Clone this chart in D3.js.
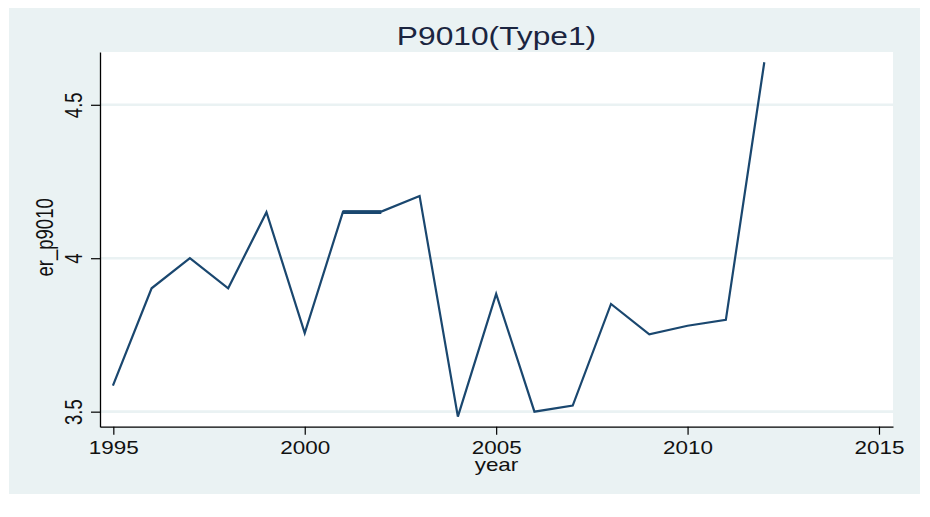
<!DOCTYPE html>
<html>
<head>
<meta charset="utf-8">
<script src="https://cdn.jsdelivr.net/npm/d3@7"></script>
<style>
  html, body { margin: 0; padding: 0; background: #ffffff; }
  svg { display: block; }
  text { font-family: "Liberation Sans", Arial, sans-serif; }
</style>
</head>
<body>
<svg id="chart" width="930" height="517"></svg>
<script>
// ---- data ----
const years = [1995, 1996, 1997, 1998, 1999, 2000, 2001, 2002, 2003, 2004, 2005, 2006, 2007, 2008, 2009, 2010, 2011, 2012];
const values = [3.588, 3.902, 4.000, 3.902, 4.150, 3.756, 4.152, 4.152, 4.203, 3.484, 3.884, 3.500, 3.520, 3.851, 3.752, 3.780, 3.799, 4.635];
// years with duplicated observations (drawn as overlapping, thicker segment)
const dupYears = [2001, 2002];
const xTicks = [1995, 2000, 2005, 2010, 2015];
const yTicks = [3.5, 4, 4.5];
const titleText = "P9010(Type1)";
const xTitle = "year";
const yTitle = "er_p9010";

// ---- layout ----
const W = 930, H = 517;
const plot = { left: 100, right: 893, top: 52, bottom: 426.7 };
const SX = 1.27; // horizontal text stretch seen in the reference
const lineColor = "#1a476f";
const bgColor = "#eaf2f3";
const textColor = "#111111";

const svg = d3.select("#chart");

// outer background
svg.append("rect").attr("x", 9).attr("y", 8).attr("width", 911).attr("height", 486).attr("fill", bgColor);
// plot region
svg.append("rect").attr("x", plot.left).attr("y", plot.top)
  .attr("width", plot.right - plot.left).attr("height", plot.bottom - plot.top).attr("fill", "#ffffff");

const x = d3.scaleLinear().domain([1994.652, 2015.366]).range([plot.left, plot.right]);
const y = d3.scaleLinear().domain([3.451, 4.672]).range([plot.bottom, plot.top]);

// gridlines
svg.append("g").selectAll("line").data(yTicks).join("line")
  .attr("x1", plot.left).attr("x2", plot.right)
  .attr("y1", d => y(d)).attr("y2", d => y(d))
  .attr("stroke", bgColor).attr("stroke-width", 2.6);

// data line
const line = d3.line().x(d => x(d[0])).y(d => y(d[1]));
const pts = years.map((yr, i) => [yr, values[i]]);
svg.append("path").datum(pts).attr("d", line)
  .attr("fill", "none").attr("stroke", lineColor).attr("stroke-width", 2.2)
  .attr("stroke-linejoin", "miter").attr("stroke-linecap", "square");
// overlapping duplicate observations -> thicker segment
svg.append("path").datum(pts.filter(p => dupYears.includes(p[0]))).attr("d", line)
  .attr("fill", "none").attr("stroke", lineColor).attr("stroke-width", 3.6)
  .attr("transform", "translate(0,0.5)");

// x axis
const xAxis = svg.append("g").attr("transform", `translate(0,${plot.bottom})`)
  .call(d3.axisBottom(x).tickValues(xTicks).tickFormat(d3.format("d")).tickSize(8).tickSizeOuter(0));
xAxis.select(".domain").attr("stroke", "#000").attr("stroke-width", 1.3);
xAxis.selectAll(".tick line").attr("stroke", "#000").attr("stroke-width", 1.2);
xAxis.selectAll(".tick text")
  .attr("y", null).attr("dy", null)
  .attr("transform", `translate(0,26.8) scale(${SX},1)`)
  .attr("fill", textColor).attr("font-size", 17.7)
  .attr("font-family", "Liberation Sans, Arial, sans-serif");

// y axis
const yAxis = svg.append("g").attr("transform", `translate(${plot.left},0)`)
  .call(d3.axisLeft(y).tickValues(yTicks).tickFormat(d => d3.format("")(d)).tickSize(9).tickSizeOuter(0));
yAxis.select(".domain").attr("stroke", "#000").attr("stroke-width", 1.3);
yAxis.selectAll(".tick line").attr("stroke", "#000").attr("stroke-width", 1.2);
yAxis.selectAll(".tick text")
  .attr("x", null).attr("dy", null)
  .attr("text-anchor", "middle")
  .attr("transform", `translate(-18,0) scale(${SX},1) rotate(-90)`)
  .attr("fill", textColor).attr("font-size", 18.5)
  .attr("font-family", "Liberation Sans, Arial, sans-serif");

// axis titles
svg.append("text")
  .attr("transform", `translate(${(plot.left + plot.right) / 2},471) scale(${SX},1)`)
  .attr("text-anchor", "middle").attr("font-size", 17.7).attr("fill", textColor)
  .text(xTitle);
svg.append("text")
  .attr("transform", `translate(53,${(plot.top + plot.bottom) / 2 - 2}) scale(${SX},1) rotate(-90)`)
  .attr("text-anchor", "middle").attr("font-size", 18.5).attr("fill", textColor)
  .text(yTitle);

// main title
svg.append("text")
  .attr("transform", `translate(${(plot.left + plot.right) / 2},45) scale(${SX},1)`)
  .attr("text-anchor", "middle").attr("font-size", 25).attr("fill", "#1b2540")
  .text(titleText);
</script>
</body>
</html>
